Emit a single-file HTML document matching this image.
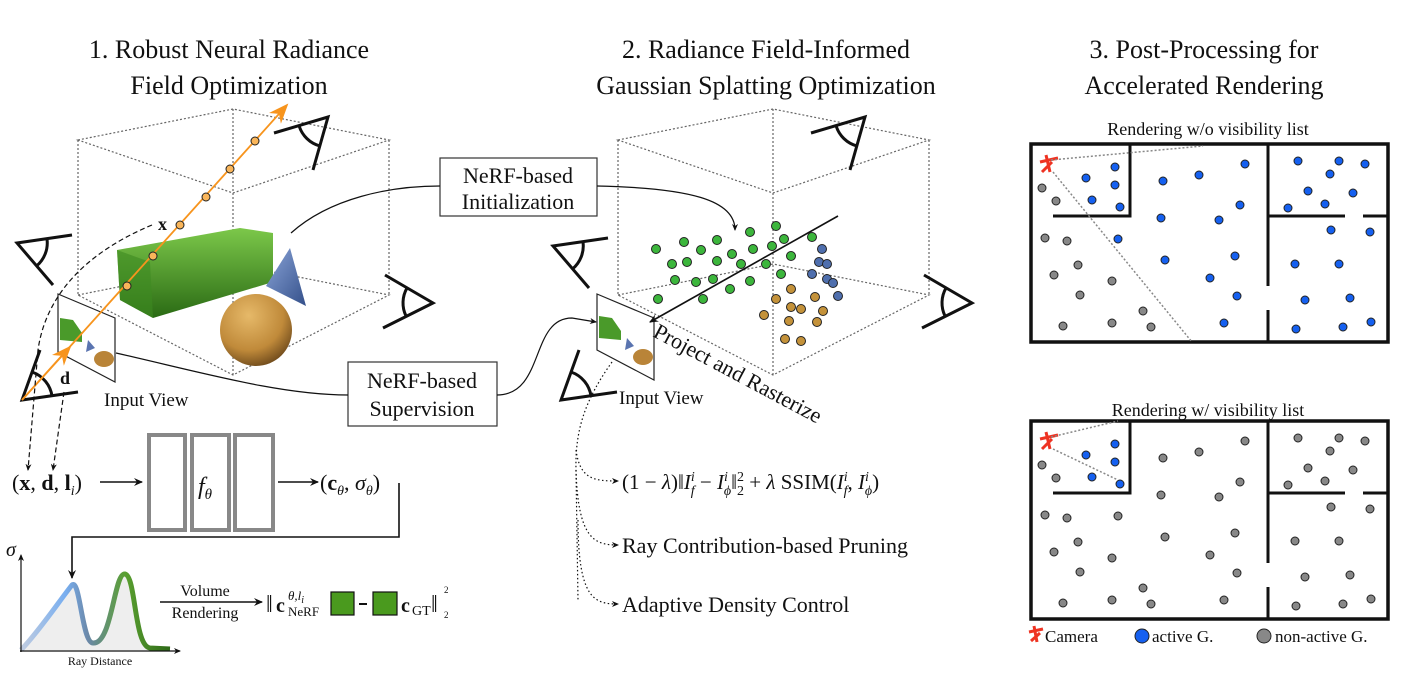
<!DOCTYPE html>
<html><head><meta charset="utf-8"><style>
body{margin:0;background:#fff}
svg{display:block}
text{font-family:"Liberation Serif",serif;fill:#111}
</style></head><body>
<svg width="1427" height="699" viewBox="0 0 1427 699" xmlns="http://www.w3.org/2000/svg">
<defs>
<marker id="ah" markerWidth="10" markerHeight="10" refX="8" refY="5" orient="auto" markerUnits="userSpaceOnUse"><path d="M0,1 L9,5 L0,9 L3,5z" fill="#111"/></marker>
<marker id="ahs" markerWidth="8" markerHeight="8" refX="6" refY="4" orient="auto" markerUnits="userSpaceOnUse"><path d="M0,1 L7,4 L0,7 L2,4z" fill="#111"/></marker>
<marker id="oh" markerWidth="24" markerHeight="24" refX="18" refY="10" orient="auto" markerUnits="userSpaceOnUse"><path d="M0,2 L20,10 L0,18 L6,10z" fill="#f7941d"/></marker>
<linearGradient id="gb" x1="0" y1="0" x2="0" y2="1"><stop offset="0" stop-color="#7cc84a"/><stop offset="1" stop-color="#2a6a14"/></linearGradient>
<radialGradient id="sp" cx="0.4" cy="0.3" r="0.8"><stop offset="0" stop-color="#e6b969"/><stop offset="0.6" stop-color="#c08a3a"/><stop offset="1" stop-color="#5a3a14"/></radialGradient>
<linearGradient id="cn" x1="0" y1="0" x2="1" y2="1"><stop offset="0" stop-color="#8aa4d8"/><stop offset="1" stop-color="#34508a"/></linearGradient>
<linearGradient id="cv" x1="0" y1="0" x2="1" y2="0"><stop offset="0" stop-color="#c0cce0"/><stop offset="0.3" stop-color="#78aef0"/><stop offset="0.45" stop-color="#6b88a8"/><stop offset="0.7" stop-color="#5aa030"/><stop offset="1" stop-color="#2e6a18"/></linearGradient>
<g id="e1"><path d="M72,235 L17,243 L53,285 M47,239 A30,30 0 0 1 36.5,266"/></g>
<g id="e2"><path d="M274,133 L328,117 L313,170 M299,125.5 A30,30 0 0 0 320,146"/></g>
<g id="e3"><path d="M385,275 L433,303 L383,328 M407,288 A30,30 0 0 0 406,316"/></g>
<g id="e4"><path d="M40,350 L22,400 L78,392 M32,372 A30,30 0 0 1 52,396"/></g>
</defs>

<!-- titles -->
<g font-size="26" text-anchor="middle">
<text x="229" y="58">1. Robust Neural Radiance</text>
<text x="229" y="94">Field Optimization</text>
<text x="766" y="58">2. Radiance Field-Informed</text>
<text x="766" y="94">Gaussian Splatting Optimization</text>
<text x="1204" y="58">3. Post-Processing for</text>
<text x="1204" y="94">Accelerated Rendering</text>
</g>

<!-- cubes -->
<g fill="none" stroke="#666" stroke-width="1.2" stroke-dasharray="2,2">
<path d="M78,140 L233,109 L389,140 L233,193 Z M78,295 L233,264 L389,295 L233,375 Z M78,140 V295 M389,140 V295 M233,109 V375"/>
<path transform="translate(540,0)" d="M78,140 L233,109 L389,140 L233,193 Z M78,295 L233,264 L389,295 L233,375 Z M78,140 V295 M389,140 V295 M233,109 V375"/>
</g>

<!-- scene -->
<polygon points="117,250 240,228 273,233 273,282 153,318 120,300" fill="url(#gb)"/>
<polygon points="117,250 150,262 153,318 120,300" fill="#3d8a22" opacity="0.6"/>
<polygon points="290,248 266,286 306,306" fill="url(#cn)"/>
<circle cx="256" cy="330" r="36" fill="url(#sp)"/>

<!-- eyes -->
<g fill="none" stroke="#111" stroke-width="3">
<use href="#e1"/><use href="#e2"/><use href="#e3"/><use href="#e4"/>
<use href="#e1" transform="translate(536,3)"/>
<use href="#e2" transform="translate(537,0)"/>
<use href="#e3" transform="translate(539,0)"/>
<use href="#e4" transform="translate(539,0)"/>
</g>

<!-- input views -->
<g>
<polygon points="58,294 115,318 115,382 58,352" fill="#fff" stroke="#222" stroke-width="1.2"/>
<polygon points="60,318 73,320 82,333 82,342 60,340" fill="#4a9a2a"/>
<polygon points="88,340 95,348 86,352" fill="#5a74b0"/>
<ellipse cx="104" cy="359" rx="10" ry="8" fill="#b98438"/>
<polygon points="597,294 654,318 654,380 597,350" fill="#fff" stroke="#222" stroke-width="1.2"/>
<polygon points="599,316 612,318 621,331 621,340 599,338" fill="#4a9a2a"/>
<polygon points="627,338 634,346 625,350" fill="#5a74b0"/>
<ellipse cx="643" cy="357" rx="10" ry="8" fill="#b98438"/>
</g>

<!-- orange ray -->
<line x1="22" y1="400" x2="287" y2="105" stroke="#f7941d" stroke-width="1.8" marker-end="url(#oh)"/>
<line x1="22" y1="400" x2="70" y2="347" stroke="#f7941d" stroke-width="1.8" marker-end="url(#oh)"/>
<g fill="#f9b55a" stroke="#222" stroke-width="1">
<circle cx="127" cy="286" r="4"/><circle cx="153" cy="256" r="4"/><circle cx="180" cy="225" r="4"/><circle cx="206" cy="197" r="4"/><circle cx="230" cy="169" r="4"/><circle cx="255" cy="141" r="4"/>
</g>
<text x="158" y="230" font-size="18" font-weight="bold">x</text>
<text x="60" y="384" font-size="18" font-weight="bold">d</text>
<text x="104" y="406" font-size="19">Input View</text>
<text x="619" y="404" font-size="19">Input View</text>

<!-- dashed -->
<g fill="none" stroke="#111" stroke-width="1.2" stroke-dasharray="5,3">
<path d="M152,225 C80,255 45,300 38,350 L28,470" marker-end="url(#ahs)"/>
<path d="M64,392 L53,470" marker-end="url(#ahs)"/>
</g>

<!-- boxes -->
<rect x="440" y="158" width="157" height="58" fill="#fff" stroke="#333" stroke-width="1.2"/>
<text x="518" y="183" font-size="22" text-anchor="middle">NeRF-based</text>
<text x="518" y="209" font-size="22" text-anchor="middle">Initialization</text>
<rect x="348" y="362" width="149" height="64" fill="#fff" stroke="#333" stroke-width="1.2"/>
<text x="422" y="388" font-size="22" text-anchor="middle">NeRF-based</text>
<text x="422" y="416" font-size="22" text-anchor="middle">Supervision</text>
<g fill="none" stroke="#111" stroke-width="1.2">
<path d="M291,233 C330,198 390,186 440,186"/>
<path d="M597,186 C690,188 735,200 735,230" marker-end="url(#ahs)"/>
<path d="M116,353 C200,372 280,395 348,395"/>
<path d="M497,395 C545,395 530,318 572,318 L596,322" marker-end="url(#ahs)"/>
</g>

<!-- middle dots -->
<g stroke="#222" stroke-width="1">
<g fill="#3cb63c">
<circle cx="656" cy="249" r="4.5"/><circle cx="684" cy="242" r="4.5"/><circle cx="701" cy="250" r="4.5"/><circle cx="717" cy="240" r="4.5"/><circle cx="750" cy="232" r="4.5"/><circle cx="776" cy="226" r="4.5"/><circle cx="784" cy="239" r="4.5"/><circle cx="812" cy="237" r="4.5"/><circle cx="672" cy="264" r="4.5"/><circle cx="687" cy="262" r="4.5"/><circle cx="717" cy="261" r="4.5"/><circle cx="732" cy="254" r="4.5"/><circle cx="753" cy="249" r="4.5"/><circle cx="772" cy="246" r="4.5"/><circle cx="741" cy="264" r="4.5"/><circle cx="766" cy="264" r="4.5"/><circle cx="791" cy="256" r="4.5"/><circle cx="675" cy="280" r="4.5"/><circle cx="696" cy="282" r="4.5"/><circle cx="713" cy="279" r="4.5"/><circle cx="750" cy="281" r="4.5"/><circle cx="781" cy="274" r="4.5"/><circle cx="730" cy="289" r="4.5"/><circle cx="658" cy="299" r="4.5"/><circle cx="703" cy="299" r="4.5"/>
</g>
<g fill="#4f6fae">
<circle cx="822" cy="249" r="4.5"/><circle cx="819" cy="262" r="4.5"/><circle cx="827" cy="264" r="4.5"/><circle cx="812" cy="274" r="4.5"/><circle cx="827" cy="279" r="4.5"/><circle cx="833" cy="283" r="4.5"/><circle cx="838" cy="296" r="4.5"/>
</g>
<g fill="#c4923a">
<circle cx="791" cy="289" r="4.5"/><circle cx="776" cy="299" r="4.5"/><circle cx="815" cy="297" r="4.5"/><circle cx="791" cy="307" r="4.5"/><circle cx="801" cy="309" r="4.5"/><circle cx="823" cy="311" r="4.5"/><circle cx="764" cy="315" r="4.5"/><circle cx="789" cy="321" r="4.5"/><circle cx="817" cy="322" r="4.5"/><circle cx="785" cy="339" r="4.5"/><circle cx="801" cy="341" r="4.5"/>
</g>
</g>
<line x1="838" y1="216" x2="650" y2="322" stroke="#111" stroke-width="1.6" marker-end="url(#ah)"/>
<text x="652" y="336" font-size="22" transform="rotate(28 652 336)">Project and Rasterize</text>

<!-- dotted branches -->
<g fill="none" stroke="#111" stroke-width="1.2" stroke-dasharray="1.5,2.5">
<path d="M612,362 C585,400 575,430 576,470 L578,600"/>
<path d="M576,450 C580,480 595,481 618,481" marker-end="url(#ahs)"/>
<path d="M576,470 C578,540 595,545 618,545" marker-end="url(#ahs)"/>
<path d="M578,520 C578,600 595,604 618,604" marker-end="url(#ahs)"/>
</g>
<text x="622" y="489" font-size="21">(1 − <tspan font-style="italic">λ</tspan>)‖<tspan font-style="italic">I</tspan><tspan font-size="14" dy="-8" font-style="italic">i</tspan><tspan font-size="14" dx="-4" dy="14" font-style="italic">f</tspan><tspan dy="-6"> − </tspan><tspan font-style="italic">I</tspan><tspan font-size="14" dy="-8" font-style="italic">i</tspan><tspan font-size="14" dx="-4" dy="14" font-style="italic">ϕ</tspan><tspan dy="-6">‖</tspan><tspan font-size="14" dy="-8">2</tspan><tspan font-size="14" dx="-7" dy="14">2</tspan><tspan dy="-6"> + </tspan><tspan font-style="italic">λ</tspan> SSIM(<tspan font-style="italic">I</tspan><tspan font-size="14" dy="-8" font-style="italic">i</tspan><tspan font-size="14" dx="-4" dy="14" font-style="italic">f</tspan><tspan dy="-6">, </tspan><tspan font-style="italic">I</tspan><tspan font-size="14" dy="-8" font-style="italic">i</tspan><tspan font-size="14" dx="-4" dy="14" font-style="italic">ϕ</tspan><tspan dy="-6">)</tspan></text>
<text x="622" y="553" font-size="22">Ray Contribution-based Pruning</text>
<text x="622" y="612" font-size="22">Adaptive Density Control</text>

<!-- network -->
<text x="12" y="490" font-size="22">(<tspan font-weight="bold">x</tspan>, <tspan font-weight="bold">d</tspan>, <tspan font-weight="bold">l</tspan><tspan font-size="14" font-style="italic" dy="5">i</tspan><tspan dy="-5">)</tspan></text>
<line x1="100" y1="482" x2="142" y2="482" stroke="#111" stroke-width="1.6" marker-end="url(#ah)"/>
<g fill="none" stroke="#888" stroke-width="4">
<rect x="149" y="435" width="36" height="95"/><rect x="192" y="435" width="37" height="95"/><rect x="235" y="435" width="38" height="95"/>
</g>
<text x="198" y="494" font-size="24" font-style="italic">f<tspan font-size="15" dy="5">θ</tspan></text>
<line x1="278" y1="482" x2="318" y2="482" stroke="#111" stroke-width="1.6" marker-end="url(#ah)"/>
<text x="320" y="490" font-size="22">(<tspan font-weight="bold">c</tspan><tspan font-size="14" font-style="italic" dy="5">θ</tspan><tspan dy="-5">, </tspan><tspan font-style="italic">σ</tspan><tspan font-size="14" font-style="italic" dy="5">θ</tspan><tspan dy="-5">)</tspan></text>
<path d="M399,483 V537 H72 V578" fill="none" stroke="#111" stroke-width="1.6" marker-end="url(#ah)"/>

<!-- graph -->
<path d="M21,650 C40,630 60,600 72,585 C80,578 82,643 93,643 C112,645 114,572 125,574 C136,576 134,646 150,648 L170,649 L170,650 Z" fill="#eee"/>
<path d="M21,650 C40,630 60,600 72,585 C80,578 82,643 93,643 C112,645 114,572 125,574 C136,576 134,646 150,648 L170,649" fill="none" stroke="url(#cv)" stroke-width="5"/>
<path d="M21,652 V555" stroke="#111" stroke-width="1.2" marker-end="url(#ahs)"/>
<path d="M20,651 H180" stroke="#111" stroke-width="1.2" marker-end="url(#ahs)"/>
<text x="6" y="556" font-size="20" font-style="italic">σ</text>
<text x="100" y="665" font-size="12" text-anchor="middle">Ray Distance</text>
<text x="205" y="596" font-size="16" text-anchor="middle">Volume</text>
<text x="205" y="618" font-size="16" text-anchor="middle">Rendering</text>
<line x1="160" y1="602" x2="262" y2="602" stroke="#111" stroke-width="1.4" marker-end="url(#ah)"/>
<text x="266" y="612" font-size="24">‖</text>
<text x="276" y="612" font-size="20" font-weight="bold">c</text>
<text x="288" y="600" font-size="13" font-style="italic">θ,l<tspan font-size="10" dy="3">i</tspan></text>
<text x="288" y="616" font-size="13">NeRF</text>
<rect x="331" y="592" width="23" height="23" fill="#4a9a1e" stroke="#111" stroke-width="1.2"/>
<line x1="359" y1="604" x2="367" y2="604" stroke="#111" stroke-width="2"/>
<rect x="373" y="592" width="24" height="23" fill="#4a9a1e" stroke="#111" stroke-width="1.2"/>
<text x="401" y="612" font-size="20" font-weight="bold">c</text>
<text x="412" y="615" font-size="14">GT</text>
<text x="431" y="612" font-size="24">‖</text>
<text x="444" y="593" font-size="9">2</text>
<text x="444" y="618" font-size="9">2</text>

<!-- maps -->
<text x="1208" y="135" font-size="18" text-anchor="middle">Rendering w/o visibility list</text>
<text x="1208" y="416" font-size="18" text-anchor="middle">Rendering w/ visibility list</text>
<g id="map">
<rect x="1031" y="144" width="357" height="198" fill="none" stroke="#111" stroke-width="3.5"/>
<path d="M1130,144 V216 H1053 M1268,144 V286 M1268,310 V342 M1268,216 H1345 M1363,216 H1388" fill="none" stroke="#111" stroke-width="3"/>
<path d="M1040,162 L1058,158 M1046,155 L1050,172 M1042,172 L1052,162" stroke="#ee3322" stroke-width="3" fill="none"/>
<g stroke="#222" stroke-width="1" fill="#888">
<circle cx="1042" cy="188" r="4"/><circle cx="1056" cy="201" r="4"/><circle cx="1045" cy="238" r="4"/><circle cx="1067" cy="241" r="4"/><circle cx="1078" cy="265" r="4"/><circle cx="1054" cy="275" r="4"/><circle cx="1112" cy="281" r="4"/><circle cx="1080" cy="295" r="4"/><circle cx="1143" cy="311" r="4"/><circle cx="1063" cy="326" r="4"/><circle cx="1112" cy="323" r="4"/><circle cx="1151" cy="327" r="4"/>
</g>
<g stroke="#222" stroke-width="1" fill="#1560f0">
<circle cx="1115" cy="167" r="4"/><circle cx="1086" cy="178" r="4"/><circle cx="1115" cy="185" r="4"/><circle cx="1092" cy="200" r="4"/><circle cx="1120" cy="207" r="4"/>
</g>
</g>
<path d="M1051,160 L1203,146 M1053,172 L1192,342" stroke="#888" stroke-width="1.5" stroke-dasharray="2,2" fill="none"/>
<g stroke="#222" stroke-width="1" fill="#1560f0">
<circle cx="1118" cy="239" r="4"/><circle cx="1163" cy="181" r="4"/><circle cx="1199" cy="175" r="4"/><circle cx="1245" cy="164" r="4"/><circle cx="1240" cy="205" r="4"/><circle cx="1161" cy="218" r="4"/><circle cx="1219" cy="220" r="4"/><circle cx="1165" cy="260" r="4"/><circle cx="1235" cy="256" r="4"/><circle cx="1210" cy="278" r="4"/><circle cx="1237" cy="296" r="4"/><circle cx="1224" cy="323" r="4"/><circle cx="1298" cy="161" r="4"/><circle cx="1339" cy="161" r="4"/><circle cx="1365" cy="164" r="4"/><circle cx="1330" cy="174" r="4"/><circle cx="1308" cy="191" r="4"/><circle cx="1353" cy="193" r="4"/><circle cx="1325" cy="204" r="4"/><circle cx="1288" cy="208" r="4"/><circle cx="1331" cy="230" r="4"/><circle cx="1370" cy="232" r="4"/><circle cx="1295" cy="264" r="4"/><circle cx="1339" cy="264" r="4"/><circle cx="1305" cy="300" r="4"/><circle cx="1350" cy="298" r="4"/><circle cx="1296" cy="329" r="4"/><circle cx="1343" cy="327" r="4"/><circle cx="1371" cy="322" r="4"/>
</g>
<use href="#map" transform="translate(0,277)"/>
<path d="M1051,437 L1118,421 M1053,449 L1118,480" stroke="#888" stroke-width="1.5" stroke-dasharray="2,2" fill="none"/>
<g transform="translate(0,277)" stroke="#222" stroke-width="1" fill="#888">
<circle cx="1118" cy="239" r="4"/><circle cx="1163" cy="181" r="4"/><circle cx="1199" cy="175" r="4"/><circle cx="1245" cy="164" r="4"/><circle cx="1240" cy="205" r="4"/><circle cx="1161" cy="218" r="4"/><circle cx="1219" cy="220" r="4"/><circle cx="1165" cy="260" r="4"/><circle cx="1235" cy="256" r="4"/><circle cx="1210" cy="278" r="4"/><circle cx="1237" cy="296" r="4"/><circle cx="1224" cy="323" r="4"/><circle cx="1298" cy="161" r="4"/><circle cx="1339" cy="161" r="4"/><circle cx="1365" cy="164" r="4"/><circle cx="1330" cy="174" r="4"/><circle cx="1308" cy="191" r="4"/><circle cx="1353" cy="193" r="4"/><circle cx="1325" cy="204" r="4"/><circle cx="1288" cy="208" r="4"/><circle cx="1331" cy="230" r="4"/><circle cx="1370" cy="232" r="4"/><circle cx="1295" cy="264" r="4"/><circle cx="1339" cy="264" r="4"/><circle cx="1305" cy="300" r="4"/><circle cx="1350" cy="298" r="4"/><circle cx="1296" cy="329" r="4"/><circle cx="1343" cy="327" r="4"/><circle cx="1371" cy="322" r="4"/>
</g>

<!-- legend -->
<path d="M1029,632 L1043,629 M1034,626 L1037,642 M1031,641 L1040,633" stroke="#ee3322" stroke-width="3" fill="none"/>
<text x="1045" y="642" font-size="17">Camera</text>
<circle cx="1142" cy="636" r="7" fill="#1560f0" stroke="#222" stroke-width="1"/>
<text x="1152" y="642" font-size="17">active G.</text>
<circle cx="1264" cy="636" r="7" fill="#888" stroke="#222" stroke-width="1"/>
<text x="1275" y="642" font-size="17">non-active G.</text>
</svg>
</body></html>
